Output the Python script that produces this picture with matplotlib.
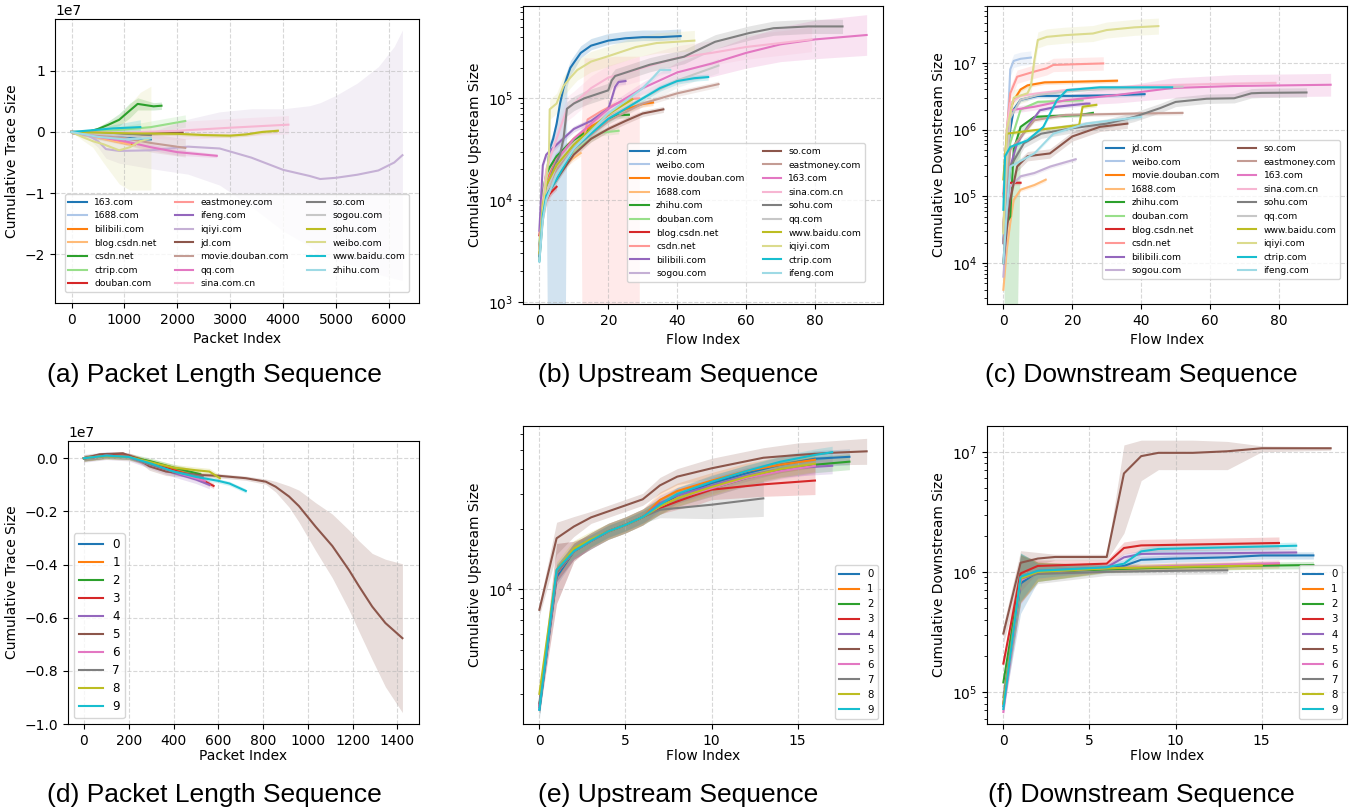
import numpy as np
import matplotlib.pyplot as plt

plt.rcParams['font.family'] = 'DejaVu Sans'
plt.rcParams['font.size'] = 10

# ---------------- (a) packet length sequence, cumulative trace size in 1e7
a_sites = ['163.com', '1688.com', 'bilibili.com', 'blog.csdn.net', 'csdn.net',
           'ctrip.com', 'douban.com', 'eastmoney.com', 'ifeng.com', 'iqiyi.com',
           'jd.com', 'movie.douban.com', 'qq.com', 'sina.com.cn', 'so.com',
           'sogou.com', 'sohu.com', 'weibo.com', 'www.baidu.com', 'zhihu.com']
a_x = {
    '163.com': [0, 600, 1100, 1300, 1500],
    '1688.com': [0, 500, 1000, 1300],
    'bilibili.com': [0, 500, 1000, 1200],
    'blog.csdn.net': [0, 800, 1100],
    'csdn.net': [0, 300, 500, 700, 900, 1100, 1250, 1400, 1550, 1700],
    'ctrip.com': [0, 500, 1000, 1500, 2150],
    'douban.com': [0, 600, 1000],
    'eastmoney.com': [0, 700, 1100],
    'ifeng.com': [0, 500, 1000],
    'iqiyi.com': [0, 300, 500, 650, 900, 1500, 2200, 2800, 3400, 4000, 4500,
                  4700, 5000, 5400, 5800, 6100, 6255],
    'jd.com': [0, 1000, 2100],
    'movie.douban.com': [0, 500, 1000, 1500, 2150],
    'qq.com': [0, 500, 1000, 1500, 2000, 2745],
    'sina.com.cn': [0, 1000, 2000, 3000, 4100],
    'so.com': [0, 1000, 1500],
    'sogou.com': [0, 800, 1300],
    'sohu.com': [0, 500, 1000, 2000, 2500, 3000, 3300, 3600, 3900],
    'weibo.com': [0, 200, 400, 600, 900, 1100, 1300, 1500],
    'www.baidu.com': [0, 400, 800, 1300],
    'zhihu.com': [0, 500, 1000, 1500],
}
a_y = {
    '163.com': [0, -0.05, -0.08, -0.12, -0.12],
    '1688.com': [0, -0.1, -0.15, -0.1],
    'bilibili.com': [0, -0.08, -0.18, -0.2],
    'blog.csdn.net': [0, -0.15, -0.2],
    'csdn.net': [0, 0, 0.05, 0.12, 0.2, 0.35, 0.46, 0.44, 0.42, 0.43],
    'ctrip.com': [0, 0.01, 0.04, 0.08, 0.18],
    'douban.com': [0, -0.08, -0.15],
    'eastmoney.com': [0, -0.1, -0.18],
    'ifeng.com': [0, -0.05, -0.1],
    'iqiyi.com': [0, -0.05, -0.15, -0.28, -0.31, -0.3, -0.24, -0.27, -0.42, -0.62,
                  -0.72, -0.77, -0.75, -0.7, -0.63, -0.5, -0.38],
    'jd.com': [0, -0.03, -0.01],
    'movie.douban.com': [0, -0.05, -0.1, -0.18, -0.26],
    'qq.com': [0, -0.08, -0.15, -0.25, -0.33, -0.39],
    'sina.com.cn': [0, -0.01, 0.02, 0.07, 0.12],
    'so.com': [0, -0.03, -0.05],
    'sogou.com': [0, -0.05, -0.08],
    'sohu.com': [0, -0.01, -0.02, -0.03, -0.05, -0.06, -0.04, 0.0, 0.02],
    'weibo.com': [0, -0.08, -0.15, -0.2, -0.3, -0.25, -0.15, -0.1],
    'www.baidu.com': [0, 0.03, 0.06, 0.08],
    'zhihu.com': [0, -0.08, -0.12, -0.1],
}
a_band = {
    'csdn.net': [0, 0.01, 0.03, 0.06, 0.1, 0.12, 0.1, 0.08, 0.06, 0.06],
    'ctrip.com': [0, 0.03, 0.06, 0.1, 0.1],
    'iqiyi.com': [0, 0.05, 0.1, 0.15, 0.2, 0.3, 0.45, 0.6, 0.8, 1.0, 1.15,
                  1.25, 1.35, 1.5, 1.7, 1.9, 2.05],
    'movie.douban.com': [0, 0.05, 0.1, 0.15, 0.15],
    'qq.com': [0, 0.03, 0.05, 0.05, 0.05, 0.03],
    'sina.com.cn': [0, 0.05, 0.15, 0.15, 0.15],
    'weibo.com': [0, 0.05, 0.1, 0.3, 0.55, 0.7, 0.8, 0.85],
    'www.baidu.com': [0, 0.02, 0.06, 0.12],
}

# ---------------- (b) upstream sequence, cumulative bytes
b_sites = ['jd.com', 'weibo.com', 'movie.douban.com', '1688.com', 'zhihu.com',
           'douban.com', 'blog.csdn.net', 'csdn.net', 'bilibili.com', 'sogou.com',
           'so.com', 'eastmoney.com', '163.com', 'sina.com.cn', 'sohu.com',
           'qq.com', 'www.baidu.com', 'iqiyi.com', 'ctrip.com', 'ifeng.com']
b_x = {
    'jd.com': [0, 1, 2, 3, 4, 5, 6, 7, 8, 9, 10, 12, 15, 20, 25, 30, 35, 41],
    'weibo.com': [0, 1, 2, 3, 5, 8],
    'movie.douban.com': [0, 1, 2, 3, 5, 8, 10, 15, 20, 25, 30, 33],
    '1688.com': [0, 1, 2, 3, 5, 8, 10, 12],
    'zhihu.com': [0, 1, 2, 3, 5, 8, 10, 15, 20, 22, 26],
    'douban.com': [0, 1, 2, 5, 8, 10, 15, 18, 23],
    'blog.csdn.net': [0, 1, 2, 3, 4, 5],
    'csdn.net': [0, 1, 2, 5, 8, 10, 12, 13, 14, 18, 22, 26, 29],
    'bilibili.com': [0, 1, 2, 5, 10, 15, 20, 21, 22, 23, 25],
    'sogou.com': [0, 1, 2, 5, 10, 15, 20],
    'so.com': [0, 1, 2, 5, 10, 15, 20, 25, 30, 36],
    'eastmoney.com': [0, 1, 2, 5, 10, 20, 30, 40, 52],
    '163.com': [0, 1, 2, 5, 10, 20, 30, 40, 50, 60, 70, 80, 95],
    'sina.com.cn': [0, 1, 2, 5, 8, 10, 15, 20, 30, 40, 50, 60, 70, 79],
    'sohu.com': [0, 1, 2, 4, 6, 7, 8, 10, 13, 20, 21, 22, 32, 42, 51, 61, 68, 78, 88],
    'qq.com': [0, 1, 2, 5, 10, 20, 30, 40, 52],
    'www.baidu.com': [0, 1, 2, 5, 10, 15, 20, 27],
    'iqiyi.com': [0, 1, 2, 2.8, 3, 5, 7, 9, 11, 15, 20, 28, 34, 45],
    'ctrip.com': [0, 1, 2, 5, 10, 15, 20, 25, 30, 35, 40, 45, 49],
    'ifeng.com': [0, 1, 2, 5, 10, 20, 30, 33, 35, 38],
}
b_y = {
    'jd.com': [2.8e3, 7.9e3, 1.6e4, 3.2e4, 4.0e4, 5.6e4, 8.9e4, 1.26e5, 1.6e5, 2.0e5,
               2.24e5, 2.8e5, 3.3e5, 3.7e5, 3.9e5, 4.0e5, 4.0e5, 4.1e5],
    'weibo.com': [3.0e3, 9e3, 1.5e4, 2.0e4, 2.8e4, 3.5e4],
    'movie.douban.com': [3.2e3, 9e3, 1.4e4, 1.8e4, 2.5e4, 3.4e4, 4.0e4, 5.3e4, 6.6e4,
                         7.8e4, 8.8e4, 9.1e4],
    '1688.com': [2.6e3, 6.5e3, 1.0e4, 1.3e4, 1.8e4, 2.3e4, 2.6e4, 2.9e4],
    'zhihu.com': [3.5e3, 1.2e4, 1.8e4, 2.1e4, 2.7e4, 3.4e4, 3.9e4, 5.0e4, 6.2e4,
                  6.8e4, 6.9e4],
    'douban.com': [3.0e3, 8e3, 1.2e4, 2.0e4, 2.6e4, 3.0e4, 4.0e4, 4.6e4, 4.8e4],
    'blog.csdn.net': [4.5e3, 8e3, 1.0e4, 1.15e4, 1.25e4, 1.35e4],
    'csdn.net': [3.0e3, 7e3, 1.0e4, 1.8e4, 2.6e4, 3.1e4, 3.6e4, 4.0e4, 6.2e4, 7.5e4,
                 8.8e4, 9.8e4, 1.0e5],
    'bilibili.com': [5e3, 2.2e4, 2.8e4, 3.5e4, 5.0e4, 6.0e4, 7.9e4, 1.0e5, 1.3e5,
                     1.45e5, 1.48e5],
    'sogou.com': [3e3, 8e3, 1.2e4, 2.0e4, 3.3e4, 4.8e4, 6.3e4],
    'so.com': [3.2e3, 7.9e3, 1.1e4, 1.6e4, 2.8e4, 4.0e4, 5.0e4, 6.0e4, 7.1e4, 7.8e4],
    'eastmoney.com': [3.2e3, 7.9e3, 1.26e4, 2.0e4, 3.2e4, 6.0e4, 8.9e4, 1.12e5, 1.38e5],
    '163.com': [3.2e3, 8.9e3, 1.4e4, 2.5e4, 4.0e4, 7.9e4, 1.26e5, 1.8e5, 2.2e5, 2.8e5,
                3.4e5, 3.8e5, 4.2e5],
    'sina.com.cn': [3.2e3, 1e4, 2e4, 4e4, 7.9e4, 8.9e4, 1.26e5, 1.6e5, 2.0e5, 2.5e5,
                    2.8e5, 3.2e5, 3.5e5, 3.8e5],
    'sohu.com': [2.8e3, 7.9e3, 1.26e4, 2.0e4, 2.8e4, 4.0e4, 7.9e4, 8.9e4, 1.0e5, 1.2e5,
                 1.5e5, 1.66e5, 2.14e5, 2.57e5, 3.6e5, 4.4e5, 4.9e5, 5.1e5, 5.1e5],
    'qq.com': [3e3, 8e3, 1.2e4, 2.2e4, 3.5e4, 6.5e4, 1.0e5, 1.5e5, 2.1e5],
    'www.baidu.com': [3e3, 9e3, 1.4e4, 2.2e4, 3.5e4, 5.0e4, 7.0e4, 9.8e4],
    'iqiyi.com': [3.2e3, 7.9e3, 1.6e4, 2.8e4, 7.8e4, 8.9e4, 1.32e5, 1.6e5, 1.9e5,
                  2.3e5, 2.6e5, 3.2e5, 3.5e5, 3.7e5],
    'ctrip.com': [2.5e3, 7e3, 1.1e4, 1.6e4, 3.2e4, 4.5e4, 6.3e4, 7.9e4, 1.0e5, 1.26e5,
                  1.48e5, 1.58e5, 1.62e5],
    'ifeng.com': [2.5e3, 6.3e3, 1e4, 1.8e4, 3.2e4, 7.1e4, 1.26e5, 1.6e5, 1.9e5, 1.9e5],
}
b_band = {  # half width of the shaded band, in decades
    '163.com': [0.03, 0.03, 0.03, 0.03, 0.03, 0.04, 0.06, 0.1, 0.13, 0.15, 0.17, 0.19, 0.2],
    'sina.com.cn': 0.12,
    'sohu.com': 0.07,
    'iqiyi.com': 0.1,
    'qq.com': 0.07,
    'jd.com': 0.07,
}
b_low = {
    'jd.com': [2.5e3, 6.5e3, 1.3e4, 1, 1, 1, 1, 1, 1.3e5, 1.7e5, 1.9e5, 2.5e5, 3.0e5,
               3.4e5, 3.6e5, 3.7e5, 3.7e5, 3.8e5],
    'csdn.net': [2.7e3, 6e3, 8.5e3, 1.5e4, 2.2e4, 2.7e4, 3.1e4, 1, 1, 1, 1, 1, 1],
}
b_high = {
    'csdn.net': [3.3e3, 8e3, 1.2e4, 2.1e4, 3.0e4, 3.6e4, 4.2e4, 2.5e5, 2.5e5, 2.5e5,
                 2.6e5, 2.6e5, 2.6e5],
}

# ---------------- (c) downstream sequence, cumulative bytes
c_x = {
    'jd.com': [0, 1, 2, 3, 5, 10, 20, 30, 41],
    'weibo.com': [0, 1, 2, 3, 5, 8],
    'movie.douban.com': [0, 1, 2, 3, 5, 7, 12, 20, 33],
    '1688.com': [0, 1, 2, 3, 5, 9, 12.3],
    'zhihu.com': [0, 1, 2, 3, 5, 9, 14, 22, 26],
    'douban.com': [0, 1, 2, 5, 10, 23],
    'blog.csdn.net': [0, 1, 2, 3, 4, 5],
    'csdn.net': [0, 1, 2, 4, 9, 12.6, 14.5, 20, 29],
    'bilibili.com': [0, 1, 2, 4, 7, 10.6, 15.5, 24, 25],
    'sogou.com': [0, 1, 2, 5, 9, 13.6, 21],
    'so.com': [0, 1, 2, 4, 7, 13.5, 20, 28, 36],
    'eastmoney.com': [0, 1, 2, 9, 18, 38, 52],
    '163.com': [0, 1, 2, 9, 18, 33, 49, 67, 95],
    'sina.com.cn': [0, 1, 2, 5, 10, 20, 40, 60, 79],
    'sohu.com': [0, 1, 2, 6, 11, 20, 30, 38, 45.5, 50, 59, 67, 72, 75, 88],
    'qq.com': [0, 1, 2, 5, 10, 20, 35, 52],
    'www.baidu.com': [0, 1, 9, 22, 23, 27],
    'iqiyi.com': [0, 1, 3, 7, 8, 9, 10, 12.6, 18, 26, 30, 38, 45],
    'ctrip.com': [0, 0.5, 2, 7, 11.6, 15.5, 18.4, 28, 49],
    'ifeng.com': [0, 1, 2, 9, 14.5, 24, 40],
}
c_y = {
    'jd.com': [2e4, 3.2e5, 1e6, 2e6, 2.8e6, 3.2e6, 3.2e6, 3.25e6, 3.4e6],
    'weibo.com': [3.2e4, 6.3e5, 8e6, 1.07e7, 1.15e7, 1.2e7],
    'movie.douban.com': [3.2e4, 3.2e5, 2e6, 2.75e6, 4e6, 4.6e6, 5.1e6, 5.2e6, 5.4e6],
    '1688.com': [4e3, 1.6e4, 4e4, 8.9e4, 1.26e5, 1.48e5, 1.78e5],
    'zhihu.com': [3e4, 4e4, 5e4, 5e5, 1.1e6, 1.55e6, 1.6e6, 1.65e6, 1.78e6],
    'douban.com': [3e4, 2e5, 6.3e5, 2e6, 2.6e6, 2.75e6],
    'blog.csdn.net': [1.1e5, 1.5e5, 1.6e5, 1.6e5, 1.6e5, 1.6e5],
    'csdn.net': [1e5, 1e6, 3.5e6, 6.2e6, 7.4e6, 8.3e6, 9.3e6, 9.5e6, 9.8e6],
    'bilibili.com': [2e4, 6.3e4, 2.8e5, 6.3e5, 1.1e6, 1.95e6, 2.2e6, 2.45e6, 2.45e6],
    'sogou.com': [6.3e3, 3.2e4, 1.4e5, 2e5, 2.24e5, 2.8e5, 3.6e5],
    'so.com': [1e4, 3.2e4, 8.9e4, 2.8e5, 4e5, 4.4e5, 7.9e5, 1.1e6, 1.23e6],
    'eastmoney.com': [2e4, 1e5, 5e5, 1.38e6, 1.66e6, 1.74e6, 1.78e6],
    '163.com': [3.2e4, 3.2e5, 1.95e6, 2.2e6, 2.75e6, 3.3e6, 4.2e6, 4.5e6, 4.7e6],
    'sina.com.cn': [1e5, 1e6, 2.5e6, 3.2e6, 3.5e6, 4e6, 4.5e6, 4.8e6, 5e6],
    'sohu.com': [1e4, 6.3e4, 2.8e5, 6.3e5, 8.7e5, 1.05e6, 1.23e6, 1.55e6, 2.1e6, 2.6e6,
                 2.9e6, 2.95e6, 3.5e6, 3.55e6, 3.6e6],
    'qq.com': [3e4, 3e5, 1.5e6, 2.8e6, 3.3e6, 3.8e6, 4.2e6, 4.4e6],
    'www.baidu.com': [1.8e5, 8.7e5, 9.8e5, 1.17e6, 2.2e6, 2.35e6],
    'iqiyi.com': [2.8e4, 1e6, 3e6, 3.5e6, 4.5e6, 1.1e7, 2.2e7, 2.45e7, 2.6e7, 2.75e7,
                  3.1e7, 3.4e7, 3.55e7],
    'ctrip.com': [6.3e4, 4e5, 5.5e5, 6.9e5, 1.1e6, 2.75e6, 3.9e6, 4.3e6, 4.3e6],
    'ifeng.com': [1e4, 6.3e4, 2.8e5, 4.4e5, 8.7e5, 1.23e6, 1.55e6],
}
c_band = {
    '163.com': [0.05, 0.05, 0.05, 0.05, 0.08, 0.12, 0.15, 0.17, 0.17],
    'iqiyi.com': 0.12,
    'weibo.com': 0.1,
    'csdn.net': 0.1,
    'sohu.com': 0.07,
    'so.com': 0.07,
}
c_low = {
    'zhihu.com': [2.7e4, 1, 1, 1, 9e5, 1.4e6, 1.5e6, 1.55e6, 1.65e6],
}

# ---------------- (d)-(f) classes 0..9
d_x = [
    [0, 50, 100, 200, 300, 400, 500],
    [0, 50, 100, 200, 300, 400, 490],
    [0, 50, 100, 200, 300, 400, 520],
    [0, 50, 100, 200, 300, 400, 500, 579],
    [0, 50, 100, 200, 300, 400, 500, 560],
    [0, 70, 174, 248, 292, 367, 515, 604, 723, 812, 856, 916, 960, 1034, 1109,
     1183, 1227, 1287, 1346, 1422],
    [0, 50, 100, 200, 300, 400, 540],
    [0, 50, 100, 200, 300, 400, 530],
    [0, 50, 100, 200, 300, 400, 500, 560, 607],
    [0, 50, 100, 200, 300, 400, 500, 600, 650, 723],
]
d_y = [
    [0, 0.005, 0.01, 0.007, -0.02, -0.045, -0.07],
    [0, 0.005, 0.01, 0.007, -0.018, -0.042, -0.065],
    [0, 0.005, 0.01, 0.007, -0.012, -0.035, -0.06],
    [0, 0.005, 0.012, 0.01, -0.02, -0.045, -0.07, -0.104],
    [0, 0.005, 0.01, 0.005, -0.025, -0.055, -0.08, -0.1],
    [0, 0.015, 0.019, -0.006, -0.03, -0.05, -0.063, -0.066, -0.075, -0.088, -0.107,
     -0.144, -0.18, -0.257, -0.33, -0.42, -0.48, -0.558, -0.62, -0.677],
    [0, 0.005, 0.01, 0.005, -0.025, -0.05, -0.085],
    [0, 0.005, 0.01, 0.005, -0.025, -0.05, -0.07],
    [0, 0.005, 0.008, 0.005, -0.015, -0.035, -0.045, -0.05, -0.075],
    [0, 0.005, 0.01, 0.005, -0.02, -0.05, -0.07, -0.085, -0.095, -0.123],
]
d_band = [0.01, 0.01, 0.012, 0.01, 0.015,
          [0, 0.003, 0.005, 0.01, 0.015, 0.015, 0.01, 0.008, 0.008, 0.01, 0.02, 0.04,
           0.06, 0.09, 0.12, 0.15, 0.17, 0.2, 0.24, 0.28],
          0.01, 0.01, 0.012, 0.008]

e_x = [
    [0, 1, 2, 3, 4, 5, 6, 7, 8, 10, 12, 14, 16, 18],
    [0, 1, 2, 3, 4, 5, 6, 7, 8, 10, 12, 14, 16],
    [0, 1, 2, 3, 4, 5, 6, 7, 8, 10, 12, 14, 16, 18],
    [0, 1, 2, 3, 4, 5, 6, 7, 8, 9, 10, 13, 16],
    [0, 1, 2, 3, 4, 5, 6, 7, 8, 10, 12, 14, 17],
    [0, 1, 2, 3, 5, 6, 7, 8, 10, 13, 15, 17, 19],
    [0, 1, 2, 3, 4, 5, 6, 7, 8, 10, 12, 14, 16],
    [0, 1, 2, 3, 4, 5, 6, 7, 10, 13],
    [0, 1, 2, 3, 4, 5, 6, 7, 8, 10, 12, 14, 16],
    [0, 1, 2, 3, 4, 5, 6, 7, 8, 10, 12, 14, 16, 17],
]
e_y = [
    [2.5e3, 1.15e4, 1.55e4, 1.75e4, 1.95e4, 2.1e4, 2.3e4, 2.6e4, 2.95e4, 3.4e4, 3.8e4,
     4.2e4, 4.5e4, 4.6e4],
    [2.6e3, 1.2e4, 1.55e4, 1.75e4, 1.95e4, 2.1e4, 2.3e4, 2.8e4, 3.1e4, 3.5e4, 3.9e4,
     4.2e4, 4.45e4],
    [2.6e3, 1.2e4, 1.55e4, 1.75e4, 1.95e4, 2.1e4, 2.3e4, 2.6e4, 2.85e4, 3.2e4, 3.6e4,
     3.95e4, 4.2e4, 4.35e4],
    [2.6e3, 1.2e4, 1.55e4, 1.75e4, 1.95e4, 2.1e4, 2.3e4, 2.55e4, 2.75e4, 2.95e4, 3.15e4,
     3.35e4, 3.5e4],
    [2.6e3, 1.2e4, 1.55e4, 1.75e4, 1.95e4, 2.1e4, 2.3e4, 2.7e4, 2.95e4, 3.3e4, 3.7e4,
     4.0e4, 4.15e4],
    [7.9e3, 1.8e4, 2.06e4, 2.29e4, 2.63e4, 2.82e4, 3.31e4, 3.66e4, 4.03e4, 4.55e4, 4.7e4,
     4.82e4, 4.9e4],
    [2.6e3, 1.2e4, 1.55e4, 1.75e4, 1.95e4, 2.1e4, 2.3e4, 2.6e4, 2.85e4, 3.2e4, 3.6e4,
     3.9e4, 4.15e4],
    [2.7e3, 1.2e4, 1.55e4, 1.75e4, 1.95e4, 2.1e4, 2.3e4, 2.5e4, 2.65e4, 2.85e4],
    [3e3, 1.25e4, 1.6e4, 1.78e4, 1.95e4, 2.1e4, 2.3e4, 2.6e4, 2.85e4, 3.25e4, 3.65e4,
     4.0e4, 4.25e4],
    [2.5e3, 1.25e4, 1.55e4, 1.75e4, 1.95e4, 2.1e4, 2.3e4, 2.65e4, 3.0e4, 3.45e4, 3.9e4,
     4.35e4, 4.7e4, 4.85e4],
]
e_band = [0.04, 0.04, 0.04, [0.04, 0.15, 0.05, 0.03, 0.03, 0.03, 0.03, 0.03, 0.04,
                             0.05, 0.05, 0.06, 0.07],
          0.04, [0.03, 0.08, 0.05, 0.03, 0.03, 0.03, 0.04, 0.04, 0.05, 0.05, 0.06, 0.06,
                 0.065],
          0.04, [0.04, 0.15, 0.05, 0.03, 0.03, 0.03, 0.03, 0.04, 0.07, 0.09],
          0.04, 0.03]

f_x = [
    [0, 1, 2, 6, 7, 8, 10, 13, 15, 18],
    [0, 1, 2, 6, 10, 16],
    [0, 1, 2, 6, 10, 14, 18],
    [0, 1, 2, 6, 7, 8, 16],
    [0, 1, 2, 6, 7, 8, 17],
    [0, 1, 2, 3, 6, 7, 8, 9, 11, 13, 15, 19],
    [0, 1, 2, 6, 10, 16],
    [0, 1, 2, 6, 10, 13],
    [0, 1, 2, 6, 10, 15],
    [0, 1, 2, 6, 7, 8, 9, 17],
]
f_y = [
    [7.6e4, 8e5, 1.0e6, 1.07e6, 1.12e6, 1.26e6, 1.29e6, 1.32e6, 1.37e6, 1.37e6],
    [8e4, 8.7e5, 1.0e6, 1.06e6, 1.1e6, 1.15e6],
    [1.2e5, 9e5, 1.0e6, 1.05e6, 1.09e6, 1.12e6, 1.14e6],
    [1.72e5, 9.7e5, 1.12e6, 1.17e6, 1.58e6, 1.66e6, 1.74e6],
    [8e4, 8.9e5, 1.02e6, 1.09e6, 1.32e6, 1.41e6, 1.45e6],
    [3.06e5, 1.19e6, 1.29e6, 1.33e6, 1.33e6, 6.6e6, 9.2e6, 9.8e6, 9.8e6, 1.01e7,
     1.07e7, 1.07e7],
    [6.8e4, 8.5e5, 1.0e6, 1.07e6, 1.12e6, 1.18e6],
    [9e4, 8.8e5, 9.6e5, 1.0e6, 1.02e6, 1.03e6],
    [8e4, 8.8e5, 1.0e6, 1.07e6, 1.1e6, 1.13e6],
    [7.2e4, 9.1e5, 1.02e6, 1.09e6, 1.17e6, 1.48e6, 1.55e6, 1.65e6],
]
f_band = [[0.03, 0.25, 0.08, 0.03, 0.03, 0.03, 0.03, 0.03, 0.03, 0.03],
          [0.03, 0.2, 0.08, 0.03, 0.03, 0.03],
          [0.03, 0.2, 0.08, 0.03, 0.03, 0.03, 0.03],
          [0.03, 0.15, 0.05, 0.03, 0.05, 0.05, 0.05],
          [0.03, 0.2, 0.06, 0.03, 0.03, 0.03, 0.03],
          0.05,
          [0.03, 0.2, 0.06, 0.03, 0.03, 0.03],
          [0.03, 0.2, 0.08, 0.03, 0.03, 0.03],
          [0.03, 0.2, 0.08, 0.03, 0.03, 0.03],
          [0.03, 0.2, 0.06, 0.03, 0.03, 0.03, 0.03, 0.03]]
f_low5 = [2.5e5, 9e5, 1.15e6, 1.25e6, 1.25e6, 2.1e6, 5.75e6, 7.1e6, 7.1e6, 7.1e6,
          1.0e7, 1.03e7]
f_high5 = [3.6e5, 1.5e6, 1.45e6, 1.4e6, 1.4e6, 1.14e7, 1.25e7, 1.25e7, 1.25e7, 1.22e7,
           1.12e7, 1.1e7]

captions = ['(a) Packet Length Sequence', '(b) Upstream Sequence',
            '(c) Downstream Sequence', '(d) Packet Length Sequence',
            '(e) Upstream Sequence', '(f) Downstream Sequence']


def draw(ax, labels, xs, ys, bands, colors, log=False, scale=1.0, low=None, high=None,
         default=0.03):
    for i, lab in enumerate(labels):
        x = np.array(xs[i], float)
        y = np.array(ys[i], float) * scale
        w = np.broadcast_to(np.array(bands[i] if bands[i] is not None else default,
                                     float), x.shape)
        if log:
            lo, hi = y / 10 ** w, y * 10 ** w
        else:
            lo, hi = y - w * scale, y + w * scale
        if low is not None and low[i] is not None:
            lo = np.array(low[i], float)
        if high is not None and high[i] is not None:
            hi = np.array(high[i], float)
        ax.fill_between(x, lo, hi, color=colors[i], alpha=0.2, lw=0)
        ax.plot(x, y, color=colors[i], lw=1.5, label=lab)
    if log:
        ax.set_yscale('log')
    ax.grid(True, linestyle='--', alpha=0.5)


fig = plt.figure(figsize=(13.51, 8.11), dpi=100)
W, H = 1351.0, 811.0


def box(l, t, r, b):
    return [l / W, 1 - b / H, (r - l) / W, (b - t) / H]


t20 = plt.cm.tab20.colors
t10 = plt.cm.tab10.colors

# (a)
ax = fig.add_axes(box(55, 19, 419, 303))
draw(ax, a_sites, [a_x[s] for s in a_sites], [a_y[s] for s in a_sites],
     [a_band.get(s) for s in a_sites], t20, scale=1e7)
ax.set_xlim(-313, 6568)
ax.set_ylim(-2.8e7, 1.85e7)
ax.set_xlabel('Packet Index')
ax.set_ylabel('Cumulative Trace Size')
ax.legend(ncol=3, fontsize=6.6, loc='lower center', borderaxespad=1.2)

# (b)
ax = fig.add_axes(box(523, 6, 883, 304))
draw(ax, b_sites, [b_x[s] for s in b_sites], [b_y[s] for s in b_sites],
     [b_band.get(s) for s in b_sites], t20, log=True,
     low=[b_low.get(s) for s in b_sites], high=[b_high.get(s) for s in b_sites])
ax.set_xlim(-4.75, 99.75)
ax.set_ylim(950, 8.1e5)
ax.set_xlabel('Flow Index')
ax.set_ylabel('Cumulative Upstream Size')
ax.legend(ncol=2, fontsize=6.6, loc='lower right', bbox_to_anchor=(0.95, 0.074),
          borderaxespad=0)

# (c)
ax = fig.add_axes(box(987, 6, 1347, 304))
draw(ax, b_sites, [c_x[s] for s in b_sites], [c_y[s] for s in b_sites],
     [c_band.get(s) for s in b_sites], t20, log=True,
     low=[c_low.get(s) for s in b_sites])
ax.set_xlim(-4.75, 99.75)
ax.set_ylim(2.45e3, 7.1e7)
ax.set_xlabel('Flow Index')
ax.set_ylabel('Cumulative Downstream Size')
ax.legend(ncol=2, fontsize=6.6, loc='lower right', bbox_to_anchor=(0.981, 0.084),
          borderaxespad=0)

classes = [str(i) for i in range(10)]

# (d)
ax = fig.add_axes(box(68, 441, 419, 724))
draw(ax, classes, d_x, d_y, d_band, t10, scale=1e7)
ax.set_xlim(-71, 1496)
ax.set_ylim(-1.0e7, 0.065e7)
ax.set_xlabel('Packet Index', labelpad=1)
ax.set_ylabel('Cumulative Trace Size')
ax.legend(fontsize=8.6, loc='lower left', labelspacing=0.42)

# (e)
ax = fig.add_axes(box(523, 426, 883, 724))
draw(ax, classes, e_x, e_y, e_band, t10, log=True)
ax.set_xlim(-0.95, 19.95)
ax.set_ylim(2.12e3, 6.56e4)
ax.set_xlabel('Flow Index', labelpad=1)
ax.set_ylabel('Cumulative Upstream Size')
ax.legend(fontsize=7.3, loc='lower right')

# (f)
ax = fig.add_axes(box(987, 426, 1347, 724))
draw(ax, classes, f_x, f_y, f_band, t10, log=True,
     low=[f_low5 if i == 5 else None for i in range(10)],
     high=[f_high5 if i == 5 else None for i in range(10)])
ax.set_xlim(-0.95, 19.95)
ax.set_ylim(5.4e4, 1.64e7)
ax.set_xlabel('Flow Index', labelpad=1)
ax.set_ylabel('Cumulative Downstream Size')
ax.legend(fontsize=7.3, loc='lower right')

# sub-figure captions
for i, cap in enumerate(captions):
    cx = [214, 678, 1141][i % 3]
    cy = [375, 795][i // 3]
    fig.text(cx / W, 1 - cy / H, cap, ha='center', va='center', fontsize=19,
             family='Liberation Sans')

fig.savefig('out.png', dpi=100)
